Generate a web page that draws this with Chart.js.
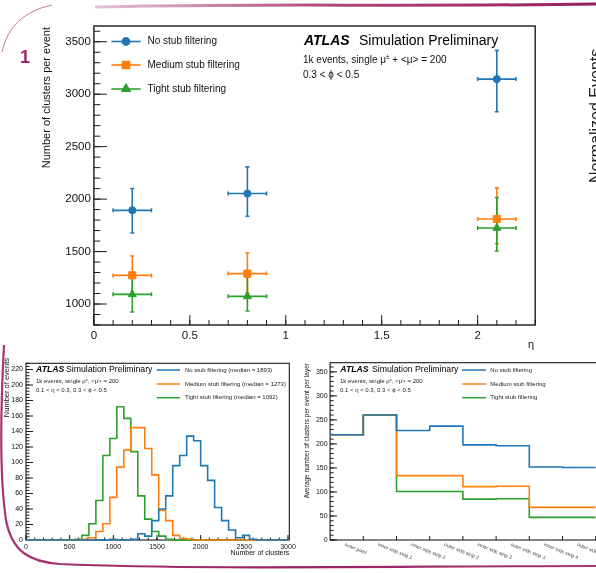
<!DOCTYPE html>
<html>
<head>
<meta charset="utf-8">
<script src="https://cdn.jsdelivr.net/npm/chart.js@4.4.1/dist/chart.umd.min.js"></script>
<style>
  html, body { margin: 0; padding: 0; width: 596px; height: 573px; overflow: hidden; background: #fff; }
  canvas { position: absolute; }
  #deco { position: absolute; left: 0; top: 0; pointer-events: none; }
</style>
</head>
<body>
<canvas id="etaChart" width="560" height="360" style="left:0;top:0"></canvas>
<canvas id="histChart" width="300" height="220" style="left:0;top:350px"></canvas>
<canvas id="layerChart" width="330" height="220" style="left:296px;top:350px"></canvas>
<svg id="deco" width="596" height="573">
  <defs>
    <linearGradient id="gTop" x1="0" x2="1" y1="0" y2="0">
      <stop offset="0" stop-color="#e2c4d6"/>
      <stop offset="0.45" stop-color="#b3487f"/>
      <stop offset="1" stop-color="#951c5e"/>
    </linearGradient>
    <linearGradient id="gBot" x1="0" x2="1" y1="0" y2="0">
      <stop offset="0" stop-color="#a8336f"/>
      <stop offset="0.5" stop-color="#9a2263"/>
      <stop offset="1" stop-color="#a33a72"/>
    </linearGradient>
  </defs>
  <path d="M 95 7 C 250 3, 400 7, 596 4" stroke="url(#gTop)" stroke-width="3" fill="none"/>
  <path d="M 2 52 Q 10 14 52 5" stroke="#c07aa3" stroke-width="1" fill="none"/>
  <path d="M 4 345 C 0 420, 0 480, 6 520 C 12 552, 30 562, 60 564 C 200 570, 400 566, 596 566" stroke="url(#gBot)" stroke-width="2.2" fill="none"/>
  <text x="20" y="63" font-family="Liberation Sans, Arial, sans-serif" font-size="18" font-weight="bold" fill="#9b2a6c">1</text>
  <text transform="translate(600.5,183) rotate(-90)" font-family="Liberation Sans, Arial, sans-serif" font-size="16" fill="#222">Normalized Events</text>
</svg>
<script>
// ── data: top panel (median clusters vs eta) ────────────────────────────────
const seriesNames = ['No stub filtering', 'Medium stub filtering', 'Tight stub filtering'];
const seriesColors = ['#1f77b4', '#ff7f0e', '#2ca02c'];
const seriesMarkers = ['circle', 'rect', 'triangle'];

const etaCenters = [0.2, 0.8, 2.1];
const etaHalfWidth = [0.1, 0.1, 0.1];
const noStubClusters = [1893, 2053, 3144];
const noStubErrUp = [208, 254, 274];
const noStubErrDown = [216, 216, 312];
const mediumStubClusters = [1273, 1290, 1811];
const mediumStubErrUp = [185, 197, 296];
const mediumStubErrDown = [185, 185, 235];
const tightStubClusters = [1092, 1073, 1725];
const tightStubErrUp = [166, 185, 290];
const tightStubErrDown = [168, 140, 219];

const etaTicks = [0, 0.5, 1, 1.5, 2];
const clusterTicks = [1000, 1500, 2000, 2500, 3000, 3500];

// ── data: bottom-left histogram (bins of 80 clusters starting at 0) ─────────
const BIN_WIDTH = 80;
const histNoStub = [0, 0, 0, 0, 0, 0, 0, 0, 0, 0, 0, 0, 1, 0, 0, 1, 8, 5, 25, 40,
    57, 96, 109, 134, 128, 96, 77, 42, 25, 13, 3, 6, 1, 0, 0, 0, 0, 0];
const histMediumStub = [0, 0, 0, 0, 0, 0, 0, 0, 1, 3, 11, 21, 55, 94, 116, 145, 145, 118, 84, 38,
    25, 6, 2, 1, 0, 0, 0, 0, 0, 0, 0, 0, 0, 0, 0, 0, 0, 0];
const histTightStub = [0, 0, 0, 0, 0, 0, 0, 1, 6, 21, 51, 109, 131, 172, 157, 114, 57, 27, 11, 5,
    1, 0, 0, 0, 0, 0, 0, 0, 0, 0, 0, 0, 0, 0, 0, 0, 0, 0];
const histMedians = [1893, 1273, 1092];
const histXTicks = [0, 500, 1000, 1500, 2000, 2500, 3000];
const histYTicks = [0, 20, 40, 60, 80, 100, 120, 140, 160, 180, 200, 220];

// ── data: bottom-right per-layer averages ───────────────────────────────────
const layerNames = ['outer pixel', 'inner side strip 1', 'inner side strip 2', 'outer side strip 2',
    'inner side strip 3', 'outer side strip 3', 'inner side strip 4', 'outer side strip 4'];
const layerNoStub = [219, 260, 228, 237, 198, 196, 152, 151];
const layerMediumStub = [219, 260, 134, 134, 111, 112, 68, 68];
const layerTightStub = [219, 260, 101, 101, 85, 86, 47, 47];
const layerYTicks = [0, 50, 100, 150, 200, 250, 300, 350];

const FONT = '"Liberation Sans", Arial, Helvetica, sans-serif';
Chart.defaults.font.family = FONT;
Chart.defaults.color = '#111';

// ── helpers ─────────────────────────────────────────────────────────────────
function axis(min, max, tickValues, fontSize, pad, fit) {
    return {
        type: 'linear', min, max,
        afterBuildTicks: s => { s.ticks = tickValues.map(v => ({ value: v })); },
        afterFit: fit,
        grid: { display: false, drawTicks: false },
        border: { display: false },
        ticks: { callback: v => String(v), autoSkip: false, maxRotation: 0, minRotation: 0,
                 padding: pad, font: { size: fontSize }, color: '#111' }
    };
}

function ticksOn(chart, id, from, to, step, len) {
    const ctx = chart.ctx, s = chart.scales[id], a = chart.chartArea;
    const n = Math.round((to - from) / step);
    ctx.beginPath();
    for (let i = 0; i <= n; i++) {
        const p = s.getPixelForValue(from + i * step);
        if (id === 'y') {
            if (p < a.top - 0.5 || p > a.bottom + 0.5) continue;
            ctx.moveTo(a.left, p); ctx.lineTo(a.left + len, p);
        } else {
            if (p < a.left - 0.5 || p > a.right + 0.5) continue;
            ctx.moveTo(p, a.bottom); ctx.lineTo(p, a.bottom - len);
        }
    }
    ctx.stroke();
}

function frame(chart, lw) {
    const ctx = chart.ctx, a = chart.chartArea;
    ctx.save();
    ctx.strokeStyle = '#1a1a1a';
    ctx.lineWidth = lw;
    ctx.strokeRect(a.left, a.top, a.right - a.left, a.bottom - a.top);
    ctx.restore();
}

// draw a run of text pieces (font, text, dy) starting at x on baseline y
function parts(ctx, x, y, list) {
    ctx.textAlign = 'left';
    ctx.textBaseline = 'alphabetic';
    for (const p of list) {
        ctx.font = p[0];
        ctx.fillText(p[1], x, y + (p[2] || 0));
        x += ctx.measureText(p[1]).width;
    }
}

function yTitle(ctx, text, cx, top, size) {
    ctx.save();
    ctx.translate(cx, top);
    ctx.rotate(-Math.PI / 2);
    ctx.font = `${size}px ${FONT}`;
    ctx.textAlign = 'right';
    ctx.textBaseline = 'middle';
    ctx.fillStyle = '#111';
    ctx.fillText(text, 0, 0);
    ctx.restore();
}

function atlasLabel(ctx, x, xSim, y, size) {
    ctx.fillStyle = '#000';
    parts(ctx, x, y, [[`italic bold ${size}px ${FONT}`, 'ATLAS']]);
    parts(ctx, xSim, y, [[`${size}px ${FONT}`, 'Simulation Preliminary']]);
}

function lineLegend(ctx, x0, x1, xt, rows, labels, size) {
    labels.forEach((t, i) => {
        ctx.strokeStyle = seriesColors[i];
        ctx.lineWidth = 1.5;
        ctx.beginPath(); ctx.moveTo(x0, rows[i]); ctx.lineTo(x1, rows[i]); ctx.stroke();
        ctx.fillStyle = '#222';
        ctx.font = `${size}px ${FONT}`;
        ctx.textAlign = 'left';
        ctx.textBaseline = 'middle';
        ctx.fillText(t, xt, rows[i]);
    });
}

function stepData(xs, ys, closeY) {
    const d = xs.map((x, i) => ({ x, y: ys[i] }));
    return d;
}

// ── top panel ───────────────────────────────────────────────────────────────
const etaErrors = [
    [noStubErrUp, noStubErrDown],
    [mediumStubErrUp, mediumStubErrDown],
    [tightStubErrUp, tightStubErrDown]
];
const etaValues = [noStubClusters, mediumStubClusters, tightStubClusters];
const markerRadius = [3.6, 5, 4.6];

const etaPlugin = {
    id: 'etaDeco',
    beforeDatasetsDraw(chart) {
        const ctx = chart.ctx, xs = chart.scales.x, ys = chart.scales.y;
        frame(chart, 1.4);
        ctx.save();
        ctx.strokeStyle = '#1a1a1a';
        ctx.lineWidth = 1;
        ticksOn(chart, 'y', 800, 3600, 100, 6.5);
        ticksOn(chart, 'y', 1000, 3500, 500, 13);
        ticksOn(chart, 'x', 0, 2.3, 0.1, 5);
        ticksOn(chart, 'x', 0, 2, 0.5, 10);
        // error bars
        etaValues.forEach((vals, k) => {
            ctx.strokeStyle = seriesColors[k];
            ctx.lineWidth = 1.6;
            vals.forEach((v, i) => {
                const xl = xs.getPixelForValue(etaCenters[i] - etaHalfWidth[i]);
                const xr = xs.getPixelForValue(etaCenters[i] + etaHalfWidth[i]);
                const xc = xs.getPixelForValue(etaCenters[i]);
                const yc = ys.getPixelForValue(v);
                const yt = ys.getPixelForValue(v + etaErrors[k][0][i]);
                const yb = ys.getPixelForValue(v - etaErrors[k][1][i]);
                ctx.beginPath();
                ctx.moveTo(xl, yc); ctx.lineTo(xr, yc);
                ctx.moveTo(xl, yc - 2); ctx.lineTo(xl, yc + 2);
                ctx.moveTo(xr, yc - 2); ctx.lineTo(xr, yc + 2);
                ctx.moveTo(xc, yt); ctx.lineTo(xc, yb);
                ctx.moveTo(xc - 2, yt); ctx.lineTo(xc + 2, yt);
                ctx.moveTo(xc - 2, yb); ctx.lineTo(xc + 2, yb);
                ctx.stroke();
            });
        });
        ctx.restore();
    },
    afterDraw(chart) {
        const ctx = chart.ctx;
        ctx.save();
        // legend
        const rows = [41.5, 65, 89];
        seriesNames.forEach((t, i) => {
            ctx.strokeStyle = seriesColors[i];
            ctx.fillStyle = seriesColors[i];
            ctx.lineWidth = 1.6;
            ctx.beginPath(); ctx.moveTo(111.4, rows[i]); ctx.lineTo(140.6, rows[i]); ctx.stroke();
            Chart.helpers.drawPoint(ctx, { pointStyle: seriesMarkers[i], radius: markerRadius[i], rotation: 0, borderWidth: 1 }, 126, rows[i]);
            ctx.fillStyle = '#111';
            ctx.font = `10px ${FONT}`;
            ctx.textAlign = 'left';
            ctx.textBaseline = 'middle';
            ctx.fillText(t, 147.5, rows[i]);
        });
        atlasLabel(ctx, 304, 359, 44.5, 14);
        ctx.fillStyle = '#111';
        parts(ctx, 303, 63, [[`10px ${FONT}`, '1k events, single μ'], [`6.5px ${FONT}`, '±', -4],
            [`10px ${FONT}`, ' + <μ> = 200']]);
        parts(ctx, 303, 77.5, [[`10px ${FONT}`, '0.3 < ϕ < 0.5']]);
        yTitle(ctx, 'Number of clusters per event', 46.8, 27, 11);
        ctx.font = `11px ${FONT}`;
        ctx.textAlign = 'right';
        ctx.textBaseline = 'middle';
        ctx.fillText('η', 534, 345);
        ctx.restore();
    }
};

new Chart(document.getElementById('etaChart'), {
    type: 'scatter',
    data: {
        datasets: etaValues.map((vals, k) => ({
            label: seriesNames[k],
            data: vals.map((v, i) => ({ x: etaCenters[i], y: v })),
            pointStyle: seriesMarkers[k],
            pointRadius: markerRadius[k],
            pointBackgroundColor: seriesColors[k],
            pointBorderColor: seriesColors[k],
            pointBorderWidth: 1
        }))
    },
    options: {
        responsive: false,
        animation: false,
        layout: { padding: { left: 0, top: 26, right: 24.8, bottom: 0 } },
        plugins: { legend: { display: false }, tooltip: { enabled: false } },
        scales: {
            x: axis(0, 2.3, etaTicks, 11.5, 4, s => { s.height = 35; }),
            y: axis(800, 3650, clusterTicks, 11.5, 3, s => { s.width = 93.9; })
        }
    },
    plugins: [etaPlugin]
});

// ── bottom-left histogram ───────────────────────────────────────────────────
const histSeries = [histNoStub, histMediumStub, histTightStub];

const histPlugin = {
    id: 'histDeco',
    beforeDatasetsDraw(chart) {
        const ctx = chart.ctx;
        frame(chart, 1.1);
        ctx.save();
        ctx.strokeStyle = '#1a1a1a';
        ctx.lineWidth = 1;
        ticksOn(chart, 'y', 0, 228, 4, 3.5);
        ticksOn(chart, 'y', 0, 220, 20, 7);
        ticksOn(chart, 'x', 0, 3000, 100, 2.5);
        ticksOn(chart, 'x', 0, 3000, 500, 5);
        ctx.restore();
    },
    afterDraw(chart) {
        const ctx = chart.ctx;
        ctx.save();
        atlasLabel(ctx, 36, 66, 22, 8.7);
        ctx.fillStyle = '#222';
        parts(ctx, 36, 33, [[`6px ${FONT}`, '1k events, single μ'], [`4px ${FONT}`, '±', -2.5],
            [`6px ${FONT}`, ', <μ> = 200']]);
        parts(ctx, 36, 42, [[`6px ${FONT}`, '0.1 < η < 0.3, 0.3 < ϕ < 0.5']]);
        lineLegend(ctx, 156.7, 180, 185, [20, 34, 47.7],
            seriesNames.map((t, i) => `${t} (median = ${histMedians[i]})`), 6);
        yTitle(ctx, 'Number of events', 6.5, 8, 7.5);
        ctx.fillStyle = '#111';
        ctx.font = `7px ${FONT}`;
        ctx.textAlign = 'right';
        ctx.textBaseline = 'middle';
        ctx.fillText('Number of clusters', 289.3, 202.7);
        ctx.restore();
    }
};

new Chart(document.getElementById('histChart'), {
    type: 'line',
    data: {
        datasets: histSeries.map((counts, k) => ({
            label: seriesNames[k],
            data: counts.map((c, i) => ({ x: i * BIN_WIDTH, y: c }))
                .concat([{ x: counts.length * BIN_WIDTH, y: counts[counts.length - 1] }]),
            stepped: 'before',
            borderColor: seriesColors[k],
            borderWidth: 1.6,
            pointRadius: 0,
            fill: false,
            clip: { left: 0, top: 0, right: 0, bottom: 2 }
        }))
    },
    options: {
        responsive: false,
        animation: false,
        layout: { padding: { left: 0, top: 13.3, right: 10.7, bottom: 0 } },
        plugins: { legend: { display: false }, tooltip: { enabled: false } },
        scales: {
            x: axis(0, 3015, histXTicks, 7, 2.5, s => { s.height = 30; }),
            y: axis(0, 228, histYTicks, 7, 3, s => { s.width = 26; })
        }
    },
    plugins: [histPlugin]
});

// ── bottom-right per-layer histogram ────────────────────────────────────────
const layerSeries = [layerNoStub, layerMediumStub, layerTightStub];

const layerPlugin = {
    id: 'layerDeco',
    beforeDatasetsDraw(chart) {
        const ctx = chart.ctx;
        frame(chart, 1.1);
        ctx.save();
        ctx.strokeStyle = '#1a1a1a';
        ctx.lineWidth = 1;
        ticksOn(chart, 'y', 0, 360, 10, 3.5);
        ticksOn(chart, 'y', 0, 350, 50, 7);
        ticksOn(chart, 'x', 1, layerNames.length, 1, 4);
        ctx.restore();
    },
    afterDraw(chart) {
        const ctx = chart.ctx, xs = chart.scales.x, a = chart.chartArea;
        ctx.save();
        atlasLabel(ctx, 44.3, 76, 22, 8.7);
        ctx.fillStyle = '#222';
        parts(ctx, 44, 33, [[`6px ${FONT}`, '1k events, single μ'], [`4px ${FONT}`, '±', -2.5],
            [`6px ${FONT}`, ', <μ> = 200']]);
        parts(ctx, 44, 42, [[`6px ${FONT}`, '0.1 < η < 0.3, 0.3 < ϕ < 0.5']]);
        lineLegend(ctx, 166, 190, 194.3, [20, 34, 47.7], seriesNames, 6);
        yTitle(ctx, 'Average number of clusters per event per layer', 11.5, 13, 6.5);
        // slanted bin labels
        ctx.fillStyle = '#444';
        ctx.font = `5px ${FONT}`;
        ctx.textAlign = 'left';
        ctx.textBaseline = 'top';
        layerNames.forEach((t, i) => {
            ctx.save();
            ctx.translate(xs.getPixelForValue(i + 0.5) - 1, a.bottom + 2);
            ctx.rotate(22 * Math.PI / 180);
            ctx.fillText(t, 0, 0);
            ctx.restore();
        });
        ctx.restore();
    }
};

new Chart(document.getElementById('layerChart'), {
    type: 'line',
    data: {
        datasets: layerSeries.map((vals, k) => ({
            label: seriesNames[k],
            data: vals.map((v, i) => ({ x: i, y: v }))
                .concat([{ x: vals.length, y: vals[vals.length - 1] }]),
            stepped: 'before',
            borderColor: seriesColors[k],
            borderWidth: 1.6,
            pointRadius: 0,
            fill: false
        }))
    },
    options: {
        responsive: false,
        animation: false,
        layout: { padding: { left: 0, top: 12.7, right: 13.7, bottom: 0 } },
        plugins: { legend: { display: false }, tooltip: { enabled: false } },
        scales: {
            x: Object.assign(axis(0, 8.5, [], 5, 2, s => { s.height = 30; }), { ticks: { display: false } }),
            y: axis(0, 369, layerYTicks, 7, 2.5, s => { s.width = 34.1; })
        }
    },
    plugins: [layerPlugin]
});
</script>
</body>
</html>
